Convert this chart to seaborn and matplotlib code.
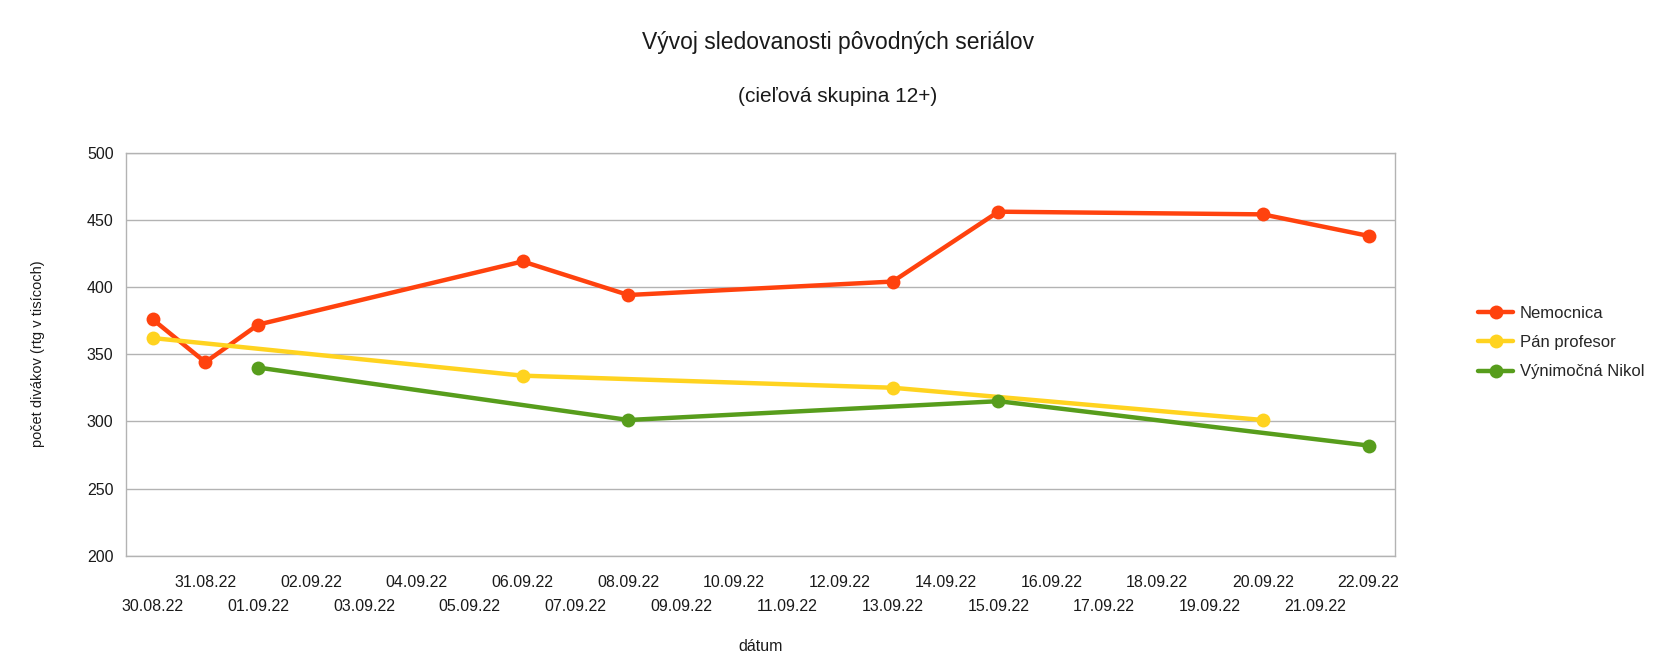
import pandas as pd
import seaborn as sns
import matplotlib.pyplot as plt
import matplotlib.dates as mdates

# dni na osi x (kazdy den jeden slot)
dni = pd.date_range("2022-08-30", "2022-09-22", freq="D")

serialy = ["Nemocnica", "Pán profesor", "Výnimočná Nikol"]
farby = ["#FF420E", "#FFD320", "#579D1C"]

nemocnica_datum = ["2022-08-30", "2022-08-31", "2022-09-01", "2022-09-06", "2022-09-08",
                   "2022-09-13", "2022-09-15", "2022-09-20", "2022-09-22"]
nemocnica_rtg = [376, 344, 372, 419, 394, 404, 456, 454, 438]

profesor_datum = ["2022-08-30", "2022-09-06", "2022-09-13", "2022-09-20"]
profesor_rtg = [362, 334, 325, 301]

nikol_datum = ["2022-09-01", "2022-09-08", "2022-09-15", "2022-09-22"]
nikol_rtg = [340, 301, 315, 282]

df = pd.concat([
    pd.DataFrame({"datum": pd.to_datetime(nemocnica_datum), "rtg": nemocnica_rtg, "serial": serialy[0]}),
    pd.DataFrame({"datum": pd.to_datetime(profesor_datum), "rtg": profesor_rtg, "serial": serialy[1]}),
    pd.DataFrame({"datum": pd.to_datetime(nikol_datum), "rtg": nikol_rtg, "serial": serialy[2]}),
], ignore_index=True)

sns.set_style("white")
plt.rcParams["font.family"] = ["Liberation Sans", "DejaVu Sans"]

fig = plt.figure(figsize=(16.72, 6.72), dpi=100)
ax = fig.add_axes([0.0754, 0.173, 0.7589, 0.600])

sns.lineplot(data=df, x="datum", y="rtg", hue="serial", hue_order=serialy,
             palette=farby, marker="o", markersize=10, markeredgewidth=0,
             linewidth=3.2, ax=ax)

# x os - sloty pre dni, popisky v dvoch riadkoch
stredy = mdates.date2num(dni)
popisky = [d.strftime("%d.%m.%y") for d in dni]
hranice = [stredy[0] - 0.5 + k for k in range(len(dni) + 1)]
ax.set_xlim(hranice[0], hranice[-1])
ax.set_xticks(hranice, labels=[""] * len(hranice))
ax.set_xticks(stredy[1::2], labels=popisky[1::2], minor=True)
ax.tick_params(axis="x", which="major", length=7, width=1, color="#b3b3b3", direction="out")
ax.tick_params(axis="x", which="minor", length=0, pad=14, labelsize=11.5, colors="#1a1a1a")

# spodny riadok popiskov
sec = ax.secondary_xaxis("bottom")
sec.set_xticks(stredy[0::2], labels=popisky[0::2])
sec.tick_params(axis="x", length=0, pad=31, labelsize=11.5, colors="#1a1a1a")
sec.spines["bottom"].set_visible(False)

ax.set_ylim(200, 500)
ax.set_yticks(range(200, 501, 50))
ax.tick_params(axis="y", length=6, width=1, color="#b3b3b3", direction="out",
               labelsize=11.5, labelcolor="#1a1a1a", pad=3)
ax.grid(axis="y", color="#b3b3b3", linewidth=1)
for s in ax.spines.values():
    s.set_color("#b3b3b3")
    s.set_linewidth(1)

ax.set_xlabel("dátum", fontsize=11.5, color="#1a1a1a", va="center")
ax.xaxis.set_label_coords(0.5, -0.226)
ax.set_ylabel("počet divákov (rtg v tisícoch)", fontsize=10.5, color="#1a1a1a", labelpad=30)

fig.text(0.501, 1 - 42 / 672, "Vývoj sledovanosti pôvodných seriálov", ha="center", va="center",
         fontsize=16.5, color="#1a1a1a")
fig.text(0.501, 1 - 96 / 672, "(cieľová skupina 12+)", ha="center", va="center",
         fontsize=15, color="#1a1a1a")

handles, labels = ax.get_legend_handles_labels()
ax.get_legend().remove()
fig.legend(handles, labels, loc="center left", bbox_to_anchor=(0.875, 0.49), frameon=False,
           fontsize=12, handlelength=2.1, handletextpad=0.4, labelspacing=0.85)

fig.savefig("out.png", dpi=100)
